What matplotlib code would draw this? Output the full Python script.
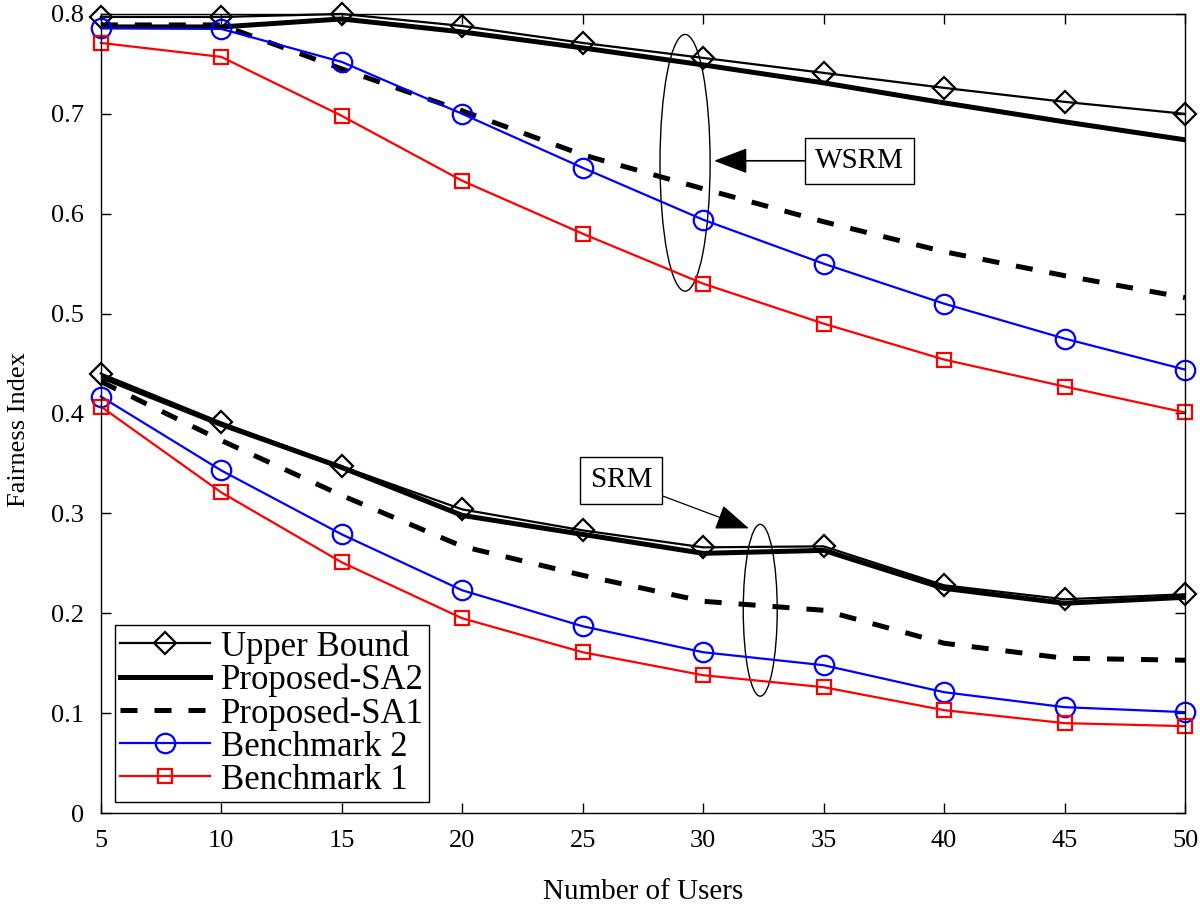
import matplotlib
matplotlib.use('Agg')
from matplotlib import pyplot as plt
from matplotlib.patches import Ellipse

plt.rcParams['font.family'] = ['Liberation Serif', 'DejaVu Serif']

users = [5, 10, 15, 20, 25, 30, 35, 40, 45, 50]

# WSRM curves
wsrm_upper = [0.797, 0.797, 0.800, 0.788, 0.771, 0.756, 0.741, 0.726, 0.712, 0.700]
wsrm_sa2 = [0.787, 0.787, 0.795, 0.782, 0.766, 0.749, 0.731, 0.711, 0.692, 0.674]
wsrm_sa1 = [0.789, 0.789, 0.745, 0.703, 0.659, 0.625, 0.592, 0.562, 0.538, 0.516]
wsrm_bench2 = [0.786, 0.785, 0.752, 0.700, 0.646, 0.594, 0.550, 0.510, 0.475, 0.444]
wsrm_bench1 = [0.771, 0.757, 0.698, 0.633, 0.580, 0.530, 0.490, 0.454, 0.427, 0.401]

# SRM curves
srm_upper = [0.440, 0.391, 0.347, 0.304, 0.283, 0.266, 0.267, 0.228, 0.214, 0.219]
srm_sa2 = [0.437, 0.389, 0.346, 0.298, 0.279, 0.260, 0.263, 0.225, 0.210, 0.216]
srm_sa1 = [0.432, 0.373, 0.318, 0.267, 0.238, 0.212, 0.203, 0.170, 0.155, 0.153]
srm_bench2 = [0.417, 0.343, 0.279, 0.223, 0.187, 0.161, 0.148, 0.121, 0.106, 0.101]
srm_bench1 = [0.407, 0.321, 0.251, 0.195, 0.161, 0.138, 0.126, 0.103, 0.090, 0.087]

fig = plt.figure(figsize=(12, 9.06), dpi=100)
ax = fig.add_axes([0.084, 0.1026, 0.9035, 0.882])

upper_style = dict(color='black', lw=1.6, marker='D', ms=11, mfc='none', mew=1.6, clip_on=False)
sa2_style = dict(color='black', lw=3.6)
sa1_style = dict(color='black', lw=3.6, ls=(0, (3.4, 3.4)))
b2_style = dict(color='blue', lw=1.6, marker='o', ms=14, mfc='none', mew=1.6, clip_on=False)
b1_style = dict(color='red', lw=1.6, marker='s', ms=10, mfc='none', mew=1.6, clip_on=False)

ax.plot(users, wsrm_upper, label='Upper Bound', **upper_style)
ax.plot(users, wsrm_sa2, label='Proposed-SA2', **sa2_style)
ax.plot(users, wsrm_sa1, label='Proposed-SA1', **sa1_style)
ax.plot(users, wsrm_bench2, label='Benchmark 2', **b2_style)
ax.plot(users, wsrm_bench1, label='Benchmark 1', **b1_style)

ax.plot(users, srm_upper, **upper_style)
ax.plot(users, srm_sa2, **sa2_style)
ax.plot(users, srm_sa1, **sa1_style)
ax.plot(users, srm_bench2, **b2_style)
ax.plot(users, srm_bench1, **b1_style)

# ellipses grouping the curves
ax.add_patch(Ellipse((29.25, 0.651), 2.08, 0.257, fill=False, ec='black', lw=1.0))
ax.add_patch(Ellipse((32.37, 0.203), 1.41, 0.172, fill=False, ec='black', lw=1.0))

box = dict(boxstyle='square,pad=0.35', fc='white', ec='black', lw=1.0)
ax.annotate('WSRM', xy=(30.45, 0.653), xytext=(36.5, 0.653), fontsize=21,
            ha='center', va='center', bbox=box,
            arrowprops=dict(arrowstyle='-|>,head_length=1.0,head_width=0.38',
                            color='black', lw=1.2, shrinkA=0, shrinkB=0))
ax.annotate('SRM', xy=(31.9, 0.285), xytext=(26.6, 0.333), fontsize=21,
            ha='center', va='center', bbox=box,
            arrowprops=dict(arrowstyle='-|>,head_length=1.0,head_width=0.38',
                            color='black', lw=0.9, shrinkA=0, shrinkB=0))

ax.set_xlim(5, 50)
ax.set_ylim(0, 0.8)
ax.set_xticks(users)
ax.set_yticks([0, 0.1, 0.2, 0.3, 0.4, 0.5, 0.6, 0.7, 0.8])
ax.set_yticklabels(['0', '0.1', '0.2', '0.3', '0.4', '0.5', '0.6', '0.7', '0.8'])
ax.tick_params(direction='in', top=True, right=True, length=7, width=1.0,
               labelsize=19, pad=12)
for s in ax.spines.values():
    s.set_linewidth(1.0)

ax.set_xlabel('Number of Users', fontsize=21, labelpad=20)
ax.set_ylabel('Fairness Index', fontsize=19, labelpad=15)
ax.yaxis.label.set_y(0.48)

leg = ax.legend(loc='lower left', bbox_to_anchor=(0.013, 0.014), borderaxespad=0,
                fontsize=25, labelspacing=0.0, handlelength=2.6, handletextpad=0.3,
                borderpad=0.15, fancybox=False, framealpha=1, edgecolor='black')
leg.get_frame().set_linewidth(1.0)

fig.savefig('out.png', dpi=100)
